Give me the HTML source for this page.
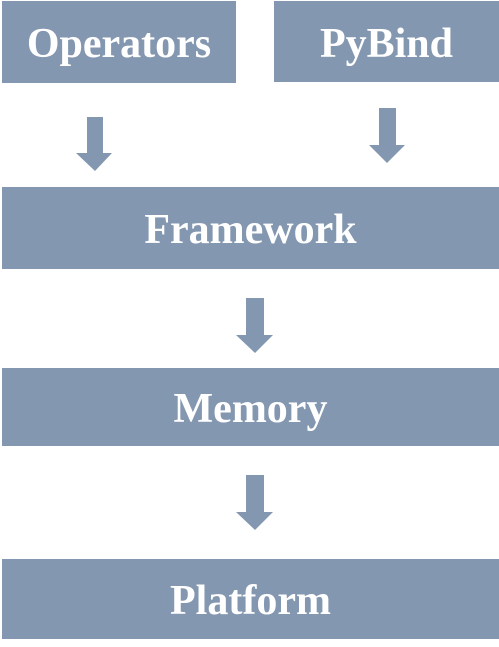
<!DOCTYPE html>
<html><head><style>
body{margin:0;width:499px;height:647px;background:#fff;position:relative;overflow:hidden}
.b{position:absolute;box-sizing:border-box;padding-top:4px;background:#8497b0;color:#fff;font-family:"Liberation Serif",serif;font-weight:bold;font-size:42px;display:flex;align-items:center;justify-content:center}
svg{position:absolute;left:0;top:0}
</style></head><body>
<div class="b" style="left:2px;top:1px;width:234px;height:82px">Operators</div>
<div class="b" style="left:274px;top:1px;width:225px;height:81px">PyBind</div>
<div class="b" style="left:2px;top:187px;width:497px;height:82px">Framework</div>
<div class="b" style="left:2px;top:368px;width:497px;height:78px">Memory</div>
<div class="b" style="left:2px;top:559px;width:497px;height:80px">Platform</div>
<svg width="499" height="647" fill="#8497b0">
<polygon points="87,117 103,117 103,153 112,153 95,171 76,153 87,153"/>
<polygon points="379,108 396,108 396,145 405,145 387,163 369,145 379,145"/>
<polygon points="246,298 264,298 264,335 273,335 255,353 236,335 246,335"/>
<polygon points="246,475 264,475 264,512 273,512 255,530 236,512 246,512"/>
</svg>
</body></html>
